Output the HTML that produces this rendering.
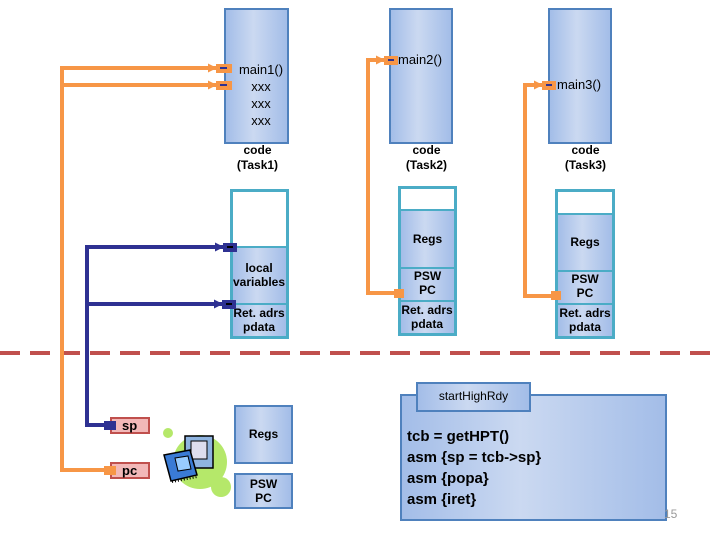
<!DOCTYPE html>
<html><head><meta charset="utf-8"><style>
body{margin:0;width:720px;height:540px;background:#fff;overflow:hidden;position:relative;font-family:"Liberation Sans",sans-serif}
.b{position:absolute;box-sizing:border-box;border:2px solid #4f81bd;background:linear-gradient(90deg,#a3bde8,#cbd9f1 45%,#a3bde8)}
.s{position:absolute;box-sizing:border-box;border:3px solid #4bacc6;background:#fff}
.t{position:absolute;font-weight:bold;font-size:12px;text-align:center;line-height:14px;color:#000}
</style></head><body>
<!-- code boxes -->
<div class="b" style="left:224px;top:8px;width:65px;height:136px"></div>
<div class="b" style="left:389px;top:8px;width:64px;height:136px"></div>
<div class="b" style="left:548px;top:8px;width:64px;height:136px"></div>
<div class="t" style="left:232px;top:61px;width:58px;line-height:17px;font-weight:normal;font-size:13px">main1()<br>xxx<br>xxx<br>xxx</div>
<div class="t" style="left:398px;top:53px;font-weight:normal;font-size:13px">main2()</div>
<div class="t" style="left:557px;top:78px;font-weight:normal;font-size:13px">main3()</div>
<div class="t" style="left:220px;top:143px;width:75px;line-height:15px">code<br>(Task1)</div>
<div class="t" style="left:389px;top:143px;width:75px;line-height:15px">code<br>(Task2)</div>
<div class="t" style="left:548px;top:143px;width:75px;line-height:15px">code<br>(Task3)</div>
<!-- stacks -->
<div class="s" style="left:230px;top:189px;width:59px;height:150px"></div>
<div class="b" style="left:231px;top:246px;width:57px;height:59px;border-color:#4bacc6"></div>
<div class="b" style="left:231px;top:303px;width:57px;height:35px;border-color:#4bacc6"></div>
<div class="t" style="left:226px;top:261px;width:66px;overflow:hidden">local<br>variables</div>
<div class="t" style="left:226px;top:306px;width:66px;overflow:hidden">Ret. adrs<br>pdata</div>

<div class="s" style="left:398px;top:186px;width:59px;height:150px"></div>
<div class="b" style="left:399px;top:209px;width:57px;height:60px;border-color:#4bacc6"></div>
<div class="b" style="left:399px;top:267px;width:57px;height:35px;border-color:#4bacc6"></div>
<div class="b" style="left:399px;top:300px;width:57px;height:35px;border-color:#4bacc6"></div>
<div class="t" style="left:399px;top:232px;width:57px">Regs</div>
<div class="t" style="left:399px;top:269px;width:57px">PSW<br>PC</div>
<div class="t" style="left:396px;top:303px;width:62px;overflow:hidden">Ret. adrs<br>pdata</div>

<div class="s" style="left:555px;top:189px;width:60px;height:150px"></div>
<div class="b" style="left:556px;top:213px;width:58px;height:59px;border-color:#4bacc6"></div>
<div class="b" style="left:556px;top:270px;width:58px;height:35px;border-color:#4bacc6"></div>
<div class="b" style="left:556px;top:303px;width:58px;height:35px;border-color:#4bacc6"></div>
<div class="t" style="left:556px;top:235px;width:58px">Regs</div>
<div class="t" style="left:556px;top:272px;width:58px">PSW<br>PC</div>
<div class="t" style="left:553px;top:306px;width:64px;overflow:hidden">Ret. adrs<br>pdata</div>

<!-- bottom regs -->
<div class="b" style="left:234px;top:405px;width:59px;height:59px"></div>
<div class="b" style="left:234px;top:473px;width:59px;height:36px"></div>
<div class="t" style="left:234px;top:427px;width:59px">Regs</div>
<div class="t" style="left:234px;top:477px;width:59px">PSW<br>PC</div>

<div style="position:absolute;left:110px;top:417px;width:40px;height:17px;box-sizing:border-box;border:2px solid #c0504d;background:#f2b8b8"></div>
<div style="position:absolute;left:110px;top:462px;width:40px;height:17px;box-sizing:border-box;border:2px solid #c0504d;background:#f2b8b8"></div>
<div class="t" style="left:122px;top:419px;font-size:13px">sp</div>
<div class="t" style="left:122px;top:464px;font-size:13px">pc</div>

<!-- startHighRdy -->
<div class="b" style="left:400px;top:394px;width:267px;height:127px"></div>
<div class="b" style="left:416px;top:382px;width:115px;height:30px"></div>
<div style="position:absolute;left:416px;top:389px;width:115px;text-align:center;font-size:12px;color:#000">startHighRdy</div>
<div style="position:absolute;left:407px;top:426px;font-size:15px;font-weight:bold;line-height:21px;color:#000">tcb = getHPT()<br>asm {sp = tcb-&gt;sp}<br>asm {popa}<br>asm {iret}</div>
<div style="position:absolute;left:664px;top:507px;font-size:12px;color:#999">15</div>

<svg width="720" height="540" style="position:absolute;left:0;top:0">
<defs>
<marker id="ao" markerUnits="userSpaceOnUse" markerWidth="9" markerHeight="9" refX="8" refY="4.5" orient="auto"><path d="M0,0L9,4.5L0,9z" fill="#f79646"/></marker>
<marker id="ab" markerUnits="userSpaceOnUse" markerWidth="9" markerHeight="9" refX="8" refY="4.5" orient="auto"><path d="M0,0L9,4.5L0,9z" fill="#2e3192"/></marker>
</defs>
<line x1="0" y1="353" x2="720" y2="353" stroke="#c0504d" stroke-width="4" stroke-dasharray="20,10"/>
<g fill="none" stroke="#f79646" stroke-width="4">
<path d="M110,470H62V68H216" marker-end="url(#ao)"/>
<path d="M62,85H216" marker-end="url(#ao)"/>
<path d="M396,293H368V60H384" marker-end="url(#ao)"/>
<path d="M552,296H525V85H542" marker-end="url(#ao)"/>
</g>
<g fill="none" stroke="#2e3192" stroke-width="4">
<path d="M110,425H87V247H223" marker-end="url(#ab)"/>
<path d="M87,304H222" marker-end="url(#ab)"/>
</g>
<g>
<rect x="216" y="64" width="16" height="9" fill="#f79646"/><rect x="220" y="67" width="7" height="2" fill="#2e3192"/>
<rect x="216" y="81" width="16" height="9" fill="#f79646"/><rect x="220" y="84" width="7" height="2" fill="#2e3192"/>
<rect x="384" y="56" width="14" height="9" fill="#f79646"/><rect x="388" y="59" width="6" height="2" fill="#2e3192"/>
<rect x="542" y="81" width="14" height="9" fill="#f79646"/><rect x="546" y="84" width="6" height="2" fill="#2e3192"/>
<rect x="394" y="289" width="10" height="9" fill="#f79646"/>
<rect x="551" y="291" width="10" height="9" fill="#f79646"/>
<rect x="104" y="466" width="12" height="9" fill="#f79646"/>
<rect x="223" y="243" width="14" height="9" fill="#2e3192"/><rect x="227" y="246" width="6" height="2" fill="#000"/>
<rect x="222" y="300" width="14" height="9" fill="#2e3192"/><rect x="226" y="303" width="6" height="2" fill="#000"/>
<rect x="104" y="421" width="12" height="9" fill="#2e3192"/>
</g>
<!-- chip icon -->
<circle cx="200" cy="462" r="27" fill="#b5e86a"/>
<circle cx="221" cy="487" r="10" fill="#b5e86a"/>
<circle cx="168" cy="433" r="5" fill="#b5e86a"/>
<rect x="185" y="436" width="28" height="32" fill="#8fb4e0" stroke="#000" stroke-width="1.5"/>
<rect x="191" y="441" width="16" height="18" fill="#dde" stroke="#000"/>
<path d="M164,455L190,450L197,475L171,481Z" fill="#3a7bd5" stroke="#000" stroke-width="1.5"/>
<path d="M175,458L188,456L191,469L178,471Z" fill="#9cf" stroke="#000"/>
<line x1="172" y1="482" x2="197" y2="477" stroke="#000" stroke-width="2" stroke-dasharray="1,2"/>
</svg>
</body></html>
